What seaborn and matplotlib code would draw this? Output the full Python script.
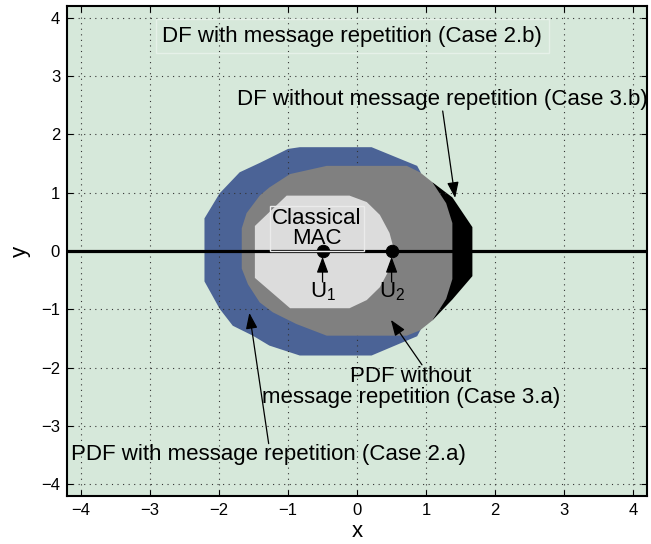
import numpy as np
import matplotlib
matplotlib.use("Agg")
import matplotlib.pyplot as plt
import seaborn as sns
import pandas as pd

# region outlines (x, y)
blue_x = [-0.83, 0.21, 0.87, 0.92, 0.92, 0.87, 0.21, -0.83, -1.27, -1.51, -1.80, -1.99,
          -2.21, -2.21, -1.99, -1.70, -1.41, -1.00]
blue_y = [1.78, 1.78, 1.46, 1.35, -1.35, -1.46, -1.79, -1.79, -1.62, -1.45, -1.28, -0.99,
          -0.52, 0.56, 0.99, 1.35, 1.51, 1.75]

black_x = [1.09, 1.38, 1.67, 1.67, 1.38, 1.09, 1.20]
black_y = [1.18, 0.92, 0.41, -0.43, -0.83, -1.19, 0.00]

gray_x = [-0.44, 0.72, 0.91, 1.09, 1.29, 1.38, 1.38, 1.29, 1.09, 0.91, 0.72, -0.44,
          -0.88, -1.22, -1.41, -1.58, -1.67, -1.67, -1.60, -1.41, -1.27, -0.97]
gray_y = [1.46, 1.46, 1.35, 1.18, 0.82, 0.48, -0.48, -0.82, -1.19, -1.36, -1.45, -1.45,
          -1.25, -1.05, -0.88, -0.57, -0.30, 0.39, 0.65, 0.95, 1.09, 1.32]

mac_x = [-1.02, -0.11, 0.14, 0.33, 0.47, 0.54, 0.47, 0.33, 0.14, -0.11, -0.97, -1.48, -1.48]
mac_y = [0.95, 0.95, 0.84, 0.62, 0.31, 0.00, -0.31, -0.62, -0.84, -0.98, -0.98, -0.46, 0.43]

users = pd.DataFrame({"x": [-0.5, 0.5], "y": [0.0, 0.0],
                      "name": ["U$_\\mathregular{1}$", "U$_\\mathregular{2}$"]})

sns.set_style("ticks")
plt.rcParams["font.family"] = ["Liberation Sans", "DejaVu Sans"]
plt.rcParams["text.color"] = "black"
plt.rcParams["axes.labelcolor"] = "black"
plt.rcParams["xtick.color"] = "black"
plt.rcParams["ytick.color"] = "black"

fig = plt.figure(figsize=(6.51, 5.44), dpi=100)
ax = fig.add_axes([0.103, 0.088, 0.891, 0.901])
ax.set_facecolor("#d6e8da")

ax.fill(blue_x, blue_y, color="#4b6396", lw=0, zorder=1)
ax.fill(black_x, black_y, color="black", lw=0, zorder=2)
ax.fill(gray_x, gray_y, color="#808080", lw=0, zorder=3)
ax.fill(mac_x, mac_y, color="#dcdcdc", lw=0, zorder=4)

ax.axhline(0, color="black", lw=2.3, zorder=5)
sns.scatterplot(data=users, x="x", y="y", ax=ax, color="black", s=80, marker="o",
                edgecolor="black", zorder=6, legend=False)

ax.set_xlim(-4.2, 4.2)
ax.set_ylim(-4.2, 4.2)
ax.set_xticks(range(-4, 5))
ax.set_yticks(range(-4, 5))
ax.set_xticklabels([str(t).replace("-", "\u2212") for t in range(-4, 5)])
ax.set_yticklabels([str(t).replace("-", "\u2212") for t in range(-4, 5)])
ax.grid(True, color="#333333", linestyle=(0, (1, 4)), lw=0.8, zorder=0.5)
ax.set_axisbelow(False)
ax.tick_params(direction="in", top=True, right=True, length=4, width=0.8,
               labelsize=12, pad=5)
for s in ax.spines.values():
    s.set_linewidth(1.5)
    s.set_color("black")
    s.set_zorder(10)
ax.set_xlabel("x", fontsize=16, labelpad=2)
ax.set_ylabel("y", fontsize=16, labelpad=7)

fs = 16
box = dict(boxstyle="square,pad=0.3", fc="none", ec="#e6f1e9", lw=1)
ax.text(-0.07, 3.68, "DF with message repetition (Case 2.b)", fontsize=fs,
        ha="center", va="center", bbox=box, zorder=8)
ax.text(-0.58, 0.385, "Classical\nMAC", fontsize=fs, ha="center", va="center",
        linespacing=0.9, bbox=dict(boxstyle="square,pad=0.1", fc="none", ec="#ebebeb", lw=1),
        zorder=8)

arrow = dict(arrowstyle="-|>,head_length=0.6,head_width=0.22", lw=0.9, color="black",
             shrinkA=0, shrinkB=0, mutation_scale=fs)
ax.text(-1.74, 2.59, "DF without message repetition (Case 3.b)", fontsize=fs,
        ha="left", va="center", clip_on=False, zorder=8)
ax.annotate("", xy=(1.42, 0.91), xytext=(1.24, 2.40), arrowprops=arrow, zorder=8)
ax.annotate("", xy=(-1.56, -1.06), xytext=(-1.28, -3.30), arrowprops=arrow, zorder=8)
ax.annotate("", xy=(0.49, -1.18), xytext=(0.94, -1.95), arrowprops=arrow, zorder=8)
for ux in users["x"]:
    ax.annotate("", xy=(ux, -0.1), xytext=(ux, -0.53), arrowprops=arrow, zorder=8)

ax.text(-4.14, -3.49, "PDF with message repetition (Case 2.a)", fontsize=fs,
        ha="left", va="center", zorder=8)
ax.text(0.78, -2.33, "PDF without\nmessage repetition (Case 3.a)", fontsize=fs,
        ha="center", va="center", linespacing=0.95, zorder=8)

for ux, name in zip(users["x"], users["name"]):
    ax.text(ux, -0.80, name, fontsize=fs, ha="center", va="baseline", zorder=8)

fig.savefig("out.png", dpi=100)
